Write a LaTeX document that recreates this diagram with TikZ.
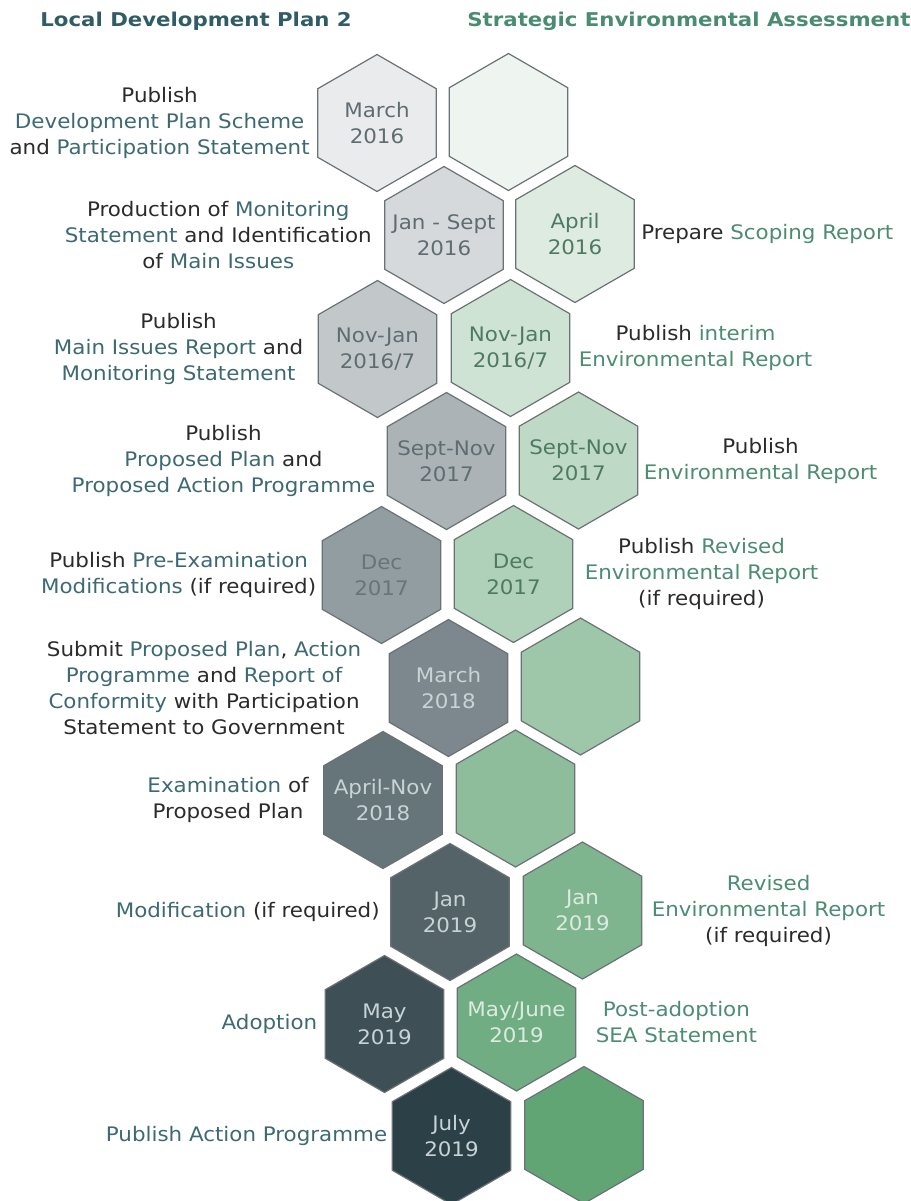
\documentclass[tikz,border=0pt]{standalone}
\usepackage{fontspec}
\setmainfont{DejaVu Sans}[FakeStretch=1.07]
\newfontfamily\titlefont{DejaVu Sans}[FakeStretch=1.12]
\usetikzlibrary{shapes.geometric,positioning}
\definecolor{txt}{HTML}{2B2B2B}
\definecolor{ldpteal}{HTML}{3D6A72}
\definecolor{seagreen}{HTML}{4B8C73}
\definecolor{ldptitle}{HTML}{305C66}
\definecolor{seatitle}{HTML}{4A8C72}
\definecolor{hexline}{HTML}{6B7275}
\definecolor{darknum}{HTML}{5F6D72}
\definecolor{lightnum}{HTML}{C8D3D6}
\definecolor{greennum}{HTML}{4F7A62}
\definecolor{palenum}{HTML}{DCEBE0}
% hexagon fills, light to dark
\definecolor{lcol1}{HTML}{E9EBEC}
\definecolor{lcol2}{HTML}{D5D9DB}
\definecolor{lcol3}{HTML}{C2C8CA}
\definecolor{lcol4}{HTML}{ABB3B7}
\definecolor{lcol5}{HTML}{929DA1}
\definecolor{lcol6}{HTML}{7C888D}
\definecolor{lcol7}{HTML}{667579}
\definecolor{lcol8}{HTML}{536368}
\definecolor{lcol9}{HTML}{3E5056}
\definecolor{lcol10}{HTML}{2C4047}
\definecolor{rcol1}{HTML}{EEF4EF}
\definecolor{rcol2}{HTML}{DEEBE1}
\definecolor{rcol3}{HTML}{CEE3D4}
\definecolor{rcol4}{HTML}{BEDAC6}
\definecolor{rcol5}{HTML}{AFD1B9}
\definecolor{rcol6}{HTML}{9DC7A8}
\definecolor{rcol7}{HTML}{8DBD9B}
\definecolor{rcol8}{HTML}{7EB58F}
\definecolor{rcol9}{HTML}{70AD83}
\definecolor{rcol10}{HTML}{61A575}
\newcommand{\ldpw}[1]{\textcolor{ldpteal}{#1}}
\newcommand{\seaw}[1]{\textcolor{seagreen}{#1}}
\tikzset{
  hex/.style={regular polygon, regular polygon sides=6, regular polygon rotate=30,
    minimum size=68.5pt, inner sep=0pt, draw=hexline, line width=0.6pt},
  hexdate/.style={align=center, inner sep=0pt, font=\fontsize{10}{13}\selectfont},
  side/.style={align=center, text=txt, inner sep=0pt,
    font=\fontsize{10}{13}\selectfont},
  heading/.style={anchor=base west, inner sep=0pt,
    font=\titlefont\bfseries\fontsize{9.5}{11}\selectfont},
}
\begin{document}
\begin{tikzpicture}[x=0.5pt,y=-0.5pt]
\useasboundingbox (0,0) rectangle (911,1201);
\node[heading, text=ldptitle] (ldptitle) at (40,26) {Local Development Plan 2};
\node[heading, text=seatitle] (seatitle) at (467,26) {Strategic Environmental Assessment};
% Local Development Plan column
\node[hex, fill=lcol1] (ldp1) at (377,123) {};
\node[hex, fill=lcol2] (ldp2) at (444,235) {};
\node[hex, fill=lcol3] (ldp3) at (377.5,349) {};
\node[hex, fill=lcol4] (ldp4) at (446.5,461) {};
\node[hex, fill=lcol5] (ldp5) at (381.5,575) {};
\node[hex, fill=lcol6] (ldp6) at (448.5,688) {};
\node[hex, fill=lcol7] (ldp7) at (383,800) {};
\node[hex, fill=lcol8] (ldp8) at (450,912) {};
\node[hex, fill=lcol9] (ldp9) at (384.5,1024) {};
\node[hex, fill=lcol10] (ldp10) at (451.5,1136) {};
\node[hexdate, text=darknum] (ldpdate1) at (ldp1) {March\\2016};
\node[hexdate, text=darknum] (ldpdate2) at (ldp2) {Jan - Sept\\2016};
\node[hexdate, text=darknum] (ldpdate3) at (ldp3) {Nov-Jan\\2016/7};
\node[hexdate, text=darknum] (ldpdate4) at (ldp4) {Sept-Nov\\2017};
\node[hexdate, text=darknum!85!lcol5] (ldpdate5) at (ldp5) {Dec\\2017};
\node[hexdate, text=lightnum] (ldpdate6) at (ldp6) {March\\2018};
\node[hexdate, text=lightnum] (ldpdate7) at (ldp7) {April-Nov\\2018};
\node[hexdate, text=lightnum] (ldpdate8) at (ldp8) {Jan\\2019};
\node[hexdate, text=lightnum] (ldpdate9) at (ldp9) {May\\2019};
\node[hexdate, text=lightnum] (ldpdate10) at (ldp10) {July\\2019};
% Strategic Environmental Assessment column
\node[hex, fill=rcol1] (sea1) at (508.5,122) {};
\node[hex, fill=rcol2] (sea2) at (575,234) {};
\node[hex, fill=rcol3] (sea3) at (510.5,348) {};
\node[hex, fill=rcol4] (sea4) at (578.5,460.5) {};
\node[hex, fill=rcol5] (sea5) at (513.5,574) {};
\node[hex, fill=rcol6] (sea6) at (580.5,686.5) {};
\node[hex, fill=rcol7] (sea7) at (515.5,798.5) {};
\node[hex, fill=rcol8] (sea8) at (582.5,910.5) {};
\node[hex, fill=rcol9] (sea9) at (516.5,1022.5) {};
\node[hex, fill=rcol10] (sea10) at (584,1135) {};
\node[hexdate, text=greennum] (seadate2) at (sea2) {April\\2016};
\node[hexdate, text=greennum] (seadate3) at (sea3) {Nov-Jan\\2016/7};
\node[hexdate, text=greennum] (seadate4) at (sea4) {Sept-Nov\\2017};
\node[hexdate, text=greennum] (seadate5) at (sea5) {Dec\\2017};
\node[hexdate, text=palenum] (seadate8) at (sea8) {Jan\\2019};
\node[hexdate, text=palenum] (seadate9) at (sea9) {May/June\\2019};
% left captions
\node[side, left=3.5pt of ldp1] (ldptxt1) {Publish\\\ldpw{Development Plan Scheme}\\and \ldpw{Participation Statement}};
\node[side, left=6pt of ldp2] (ldptxt2) {Production of \ldpw{Monitoring}\\\ldpw{Statement} and Identification\\of \ldpw{Main Issues}};
\node[side, left=7pt of ldp3] (ldptxt3) {Publish\\\ldpw{Main Issues Report} and\\\ldpw{Monitoring Statement}};
\node[side, left=5.5pt of ldp4] (ldptxt4) {Publish\\\ldpw{Proposed Plan} and\\\ldpw{Proposed Action Programme}};
\node[side, left=2.5pt of ldp5] (ldptxt5) {Publish \ldpw{Pre-Examination}\\\ldpw{Modifications} (if required)};
\node[side, left=13.5pt of ldp6] (ldptxt6) {Submit \ldpw{Proposed Plan}, \ldpw{Action}\\\ldpw{Programme} and \ldpw{Report of}\\\ldpw{Conformity} with Participation\\Statement to Government};
\node[side, left=7pt of ldp7] (ldptxt7) {\ldpw{Examination} of\\Proposed Plan};
\node[side, left=5pt of ldp8] (ldptxt8) {\ldpw{Modification} (if required)};
\node[side, left=3.5pt of ldp9] (ldptxt9) {\ldpw{Adoption}};
\node[side, left=2pt of ldp10] (ldptxt10) {\ldpw{Publish Action Programme}};
% right captions
\node[side, right=3pt of sea2] (seatxt2) {Prepare \seaw{Scoping Report}};
\node[side, right=4pt of sea3] (seatxt3) {Publish \seaw{interim}\\\seaw{Environmental Report}};
\node[side, right=2.5pt of sea4] (seatxt4) {Publish\\\seaw{Environmental Report}};
\node[side, right=5.5pt of sea5] (seatxt5) {Publish \seaw{Revised}\\\seaw{Environmental Report}\\(if required)};
\node[side, right=4.5pt of sea8] (seatxt8) {\seaw{Revised}\\\seaw{Environmental Report}\\(if required)};
\node[side, right=9.5pt of sea9] (seatxt9) {\seaw{Post-adoption}\\\seaw{SEA Statement}};
\end{tikzpicture}
\end{document}
